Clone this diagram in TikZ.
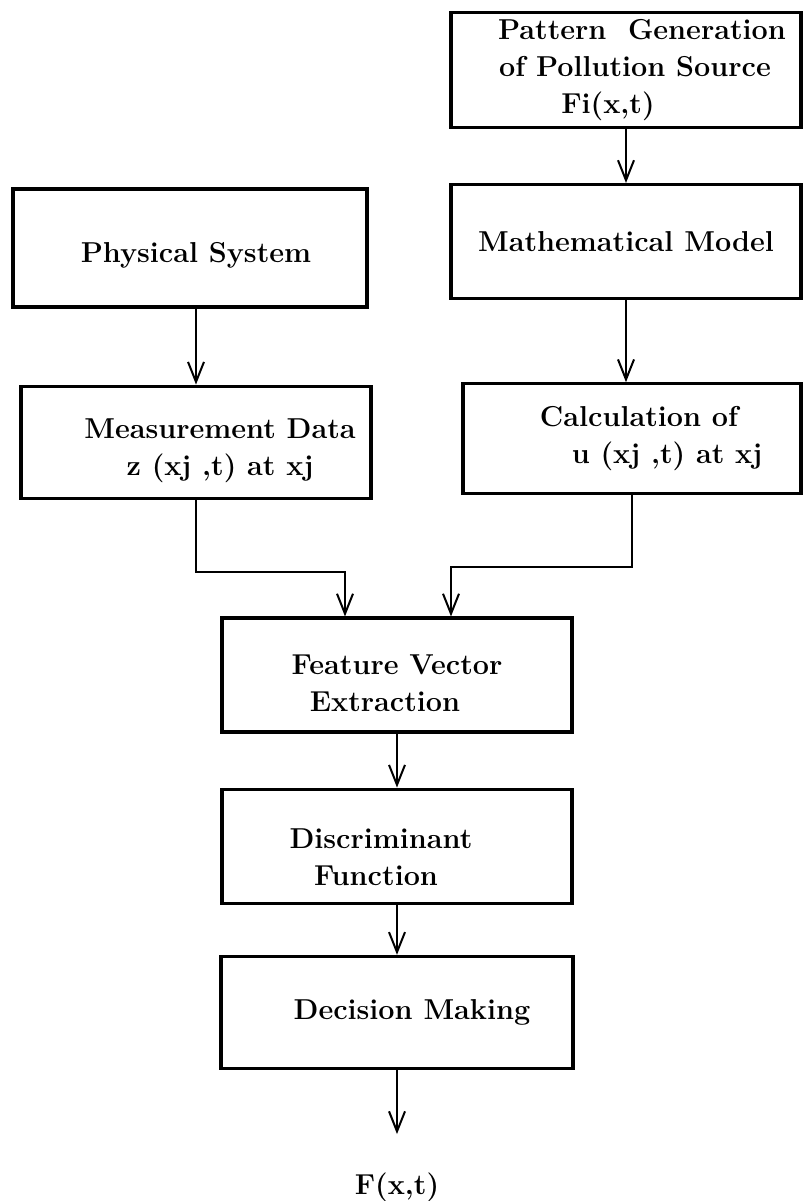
\documentclass[tikz,border=0pt]{standalone}
\usetikzlibrary{arrows.meta,positioning}
\tikzset{
  block/.style={draw,line width=1.6pt,minimum width=175pt,minimum height=57pt,
    align=center,font=\fontsize{14.4}{18.5}\selectfont\bfseries},
  label/.style={font=\fontsize{14.4}{18.5}\selectfont\bfseries},
  arrow/.style={-{Straight Barb[length=10pt,width=8pt]},line width=1pt}
}
\begin{document}
\begin{tikzpicture}[x=0.5pt,y=-0.5pt,node distance=27pt]
\useasboundingbox (0,0) rectangle (805,1201);

% right column
\node[block] (pat) at (626,70)
  {\hspace*{16pt}Pattern~~Generation\\ \hspace*{9pt}of Pollution Source\\
   \hspace*{-18pt}Fi(x,t)};
\node[block,below=of pat] (math) {Mathematical Model};
\node[block,below=41pt of math,minimum width=169pt,minimum height=55pt,
  xshift=3pt] (calc)
  {\hspace*{7pt}Calculation of\\ \hspace*{35pt}u (xj ,t) at xj};

% left column
\node[block,minimum width=177pt,minimum height=59pt] (phys) at (190,248)
  {\rule{0pt}{17pt}\hspace*{6pt}Physical System};
\node[block,below=38pt of phys,minimum height=56pt,xshift=3pt] (meas)
  {\rule{0pt}{18.5pt}\hspace*{24pt}Measurement Data\\ \hspace*{24pt}z (xj ,t) at xj};

% centre column
\node[block] (feat) at (397,675)
  {\rule{0pt}{18.5pt}Feature Vector\\ \hspace*{-12pt}Extraction};
\node[block,below=of feat] (disc)
  {\rule{0pt}{20.5pt}\hspace*{-16pt}Discriminant\\ \hspace*{-21pt}Function};
\node[block,below=25pt of disc,minimum width=176pt,minimum height=56pt] (dec)
  {\hspace*{15pt}Decision Making};
\node[label,below=48pt of dec] (out) {F(x,t)};

\draw[arrow] (pat) -- (math);
\draw[arrow] (math.south) -- (math.south |- calc.north);
\draw[arrow] (meas.north |- phys.south) -- (meas.north);
\draw[arrow] (meas.south) -- ++(0,-36pt) -| ([xshift=-26pt]feat.north);
\draw[arrow] (calc.south) -- ++(0,-36pt) -| ([xshift=27pt]feat.north);
\draw[arrow] (feat) -- (disc);
\draw[arrow] (disc) -- (dec);
\draw[arrow,shorten >=16pt] (dec) -- (out);
\end{tikzpicture}
\end{document}
